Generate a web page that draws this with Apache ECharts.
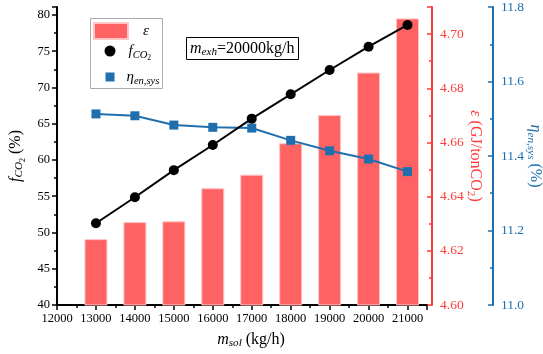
<!DOCTYPE html>
<html><head><meta charset="utf-8">
<script src="https://cdn.jsdelivr.net/npm/echarts@6/dist/echarts.min.js"></script>
<style>html,body{margin:0;padding:0;background:#fff}#c{width:543px;height:354px}</style>
</head><body><div id="c"></div>
<script>
const msol = [13000, 14000, 15000, 16000, 17000, 18000, 19000, 20000, 21000];
const eps = [4.6243, 4.6306, 4.6309, 4.6431, 4.6481, 4.6597, 4.6701, 4.6858, 4.7058];
const fco2 = [51.27, 54.86, 58.6, 62.07, 65.7, 69.06, 72.41, 75.63, 78.62];
const eta = [11.513, 11.508, 11.483, 11.477, 11.475, 11.442, 11.414, 11.392, 11.358];
const annotation = '{i|m}{s|exh}{n|=20000kg/h}';

const F = 'Liberation Serif';
const RED = '#ff3b3b', BAR = '#ff6262', BLUE = '#1f6fae';
const zip = (a, b) => a.map((v, i) => [v, b[i]]);
const rich = (size, color) => ({
  i: {fontFamily: F, fontStyle: 'italic', fontSize: size, color},
  n: {fontFamily: F, fontSize: size, color},
  s: {fontFamily: F, fontStyle: 'italic', fontSize: size * 0.7, color, padding: [size * 0.5, 0, 0, 0]},
  u: {fontFamily: F, fontSize: size * 0.7, color, padding: [size * 0.5, 0, 0, 0]},
  ss: {fontFamily: F, fontSize: size * 0.5, color, padding: [size * 0.9, 0, 0, 0]}
});
const legendNames = {eps: '{i|ε}', fco2: '{i|f}{s|CO}{ss|2}', eta: '{i|η}{s|en,sys}'};
const legendBase = (name, icon, opts, pad) => Object.assign({
  data: [{name, icon}], orient: 'vertical', selectedMode: false, padding: 0,
  formatter: n => '{g|}' + legendNames[n],
  textStyle: {fontFamily: F, fontSize: 15, color: '#000',
    rich: Object.assign(rich(15, '#000'), {g: {width: pad, fontSize: 15}})}
}, opts);
const lab = (size, color, fmt, extra) => Object.assign({
  fontFamily: F, fontSize: size, color, margin: 7,
  formatter: v => '{t|' + fmt(v) + '}',
  rich: {t: {fontFamily: F, fontSize: size, color}}
}, extra);

const chart = echarts.init(document.getElementById('c'), null, {renderer: 'canvas'});
chart.setOption({
  animation: false,
  textStyle: {fontFamily: F},
  grid: {left: 57, right: 116, top: 7, bottom: 49, containLabel: false, outerBoundsMode: 'none'},
  title: {
    text: annotation, left: 186, top: 36, padding: [3, 4, 2, 4],
    borderColor: '#000', borderWidth: 1,
    textStyle: {fontFamily: F, fontSize: 16, fontWeight: 'normal', color: '#000', rich: rich(16, '#000')}
  },
  graphic: [{type: 'rect', shape: {x: 90.5, y: 18.5, width: 72, height: 70}, style: {fill: 'none', stroke: '#aaa', lineWidth: 1}, z: 1}],
  legend: [
    legendBase('eps', 'rect', {left: 93, top: 22, itemWidth: 34, itemHeight: 16}, 10),
    legendBase('fco2', 'circle', {left: 104.5, top: 43.5, itemWidth: 11, itemHeight: 11}, 8),
    legendBase('eta', 'rect', {left: 105.5, top: 69.5, itemWidth: 9, itemHeight: 9}, 7)
  ],
  xAxis: {
    type: 'value', min: 12000, max: 21500, interval: 1000,
    name: '{i|m}{s|sol}{n| (kg/h)}', nameLocation: 'middle', nameGap: 25,
    nameTextStyle: {fontFamily: F, fontSize: 16, color: '#000', padding: [0, 0, 0, 18], rich: rich(16, '#000')},
    axisLine: {lineStyle: {color: '#000', width: 2}},
    axisTick: {length: 5, lineStyle: {width: 1.5}},
    minorTick: {show: true, splitNumber: 2, length: 3, lineStyle: {color: '#000', width: 1.5}},
    splitLine: {show: false},
    axisLabel: lab(12.5, '#000', v => String(v), {showMaxLabel: false})
  },
  yAxis: [
    {
      type: 'value', min: 40, max: 81.1, interval: 5, position: 'left',
      name: '{i|f}{s|CO}{ss|2}{n| (%)}', nameLocation: 'middle', nameGap: 30,
      nameTextStyle: {fontFamily: F, fontSize: 16, color: '#000', rich: rich(16, '#000')},
      axisLine: {show: true, lineStyle: {color: '#000', width: 2}},
      axisTick: {show: true, length: 5, lineStyle: {width: 1.5}},
      minorTick: {show: true, splitNumber: 2, length: 3, lineStyle: {color: '#000', width: 1.5}},
      splitLine: {show: false},
      axisLabel: lab(12.5, '#000', v => String(v), {showMaxLabel: false})
    },
    {
      type: 'value', min: 4.60, max: 4.71, interval: 0.02, position: 'right', offset: 5,
      name: '{i|ε}{n| (GJ/tonCO}{u|2}{n|)}', nameLocation: 'middle', nameGap: 43, nameRotate: -90,
      nameMoveOverlap: false,
      nameTextStyle: {fontFamily: F, fontSize: 16, color: RED, verticalAlign: 'middle', rich: rich(16, RED)},
      axisLine: {show: true, lineStyle: {color: RED, width: 2}},
      axisTick: {show: true, inside: true, length: 5, lineStyle: {width: 1.5}},
      minorTick: {show: true, splitNumber: 2, length: 3, lineStyle: {color: RED, width: 1.5}},
      splitLine: {show: false},
      axisLabel: lab(13.5, RED, v => v.toFixed(2), {margin: 8, showMaxLabel: false})
    },
    {
      type: 'value', min: 11.0, max: 11.8, interval: 0.2, position: 'right', offset: 66,
      name: '{i|η}{s|en,sys}{n| (%)}', nameLocation: 'middle', nameGap: 42, nameRotate: -90,
      nameMoveOverlap: false,
      nameTextStyle: {fontFamily: F, fontSize: 16, color: BLUE, verticalAlign: 'middle', rich: rich(16, BLUE)},
      axisLine: {show: true, lineStyle: {color: BLUE, width: 2}},
      axisTick: {show: true, inside: true, length: 5, lineStyle: {width: 1.5}},
      minorTick: {show: true, splitNumber: 2, length: 3, lineStyle: {color: BLUE, width: 1.5}},
      splitLine: {show: false},
      axisLabel: lab(13.5, BLUE, v => v.toFixed(1), {margin: 8})
    }
  ],
  series: [
    {
      name: 'eps', type: 'bar', yAxisIndex: 1, data: zip(msol, eps), barWidth: 23,
      itemStyle: {color: BAR, borderColor: '#ffc4c4', borderWidth: 1, borderRadius: 0}, z: 2
    },
    {
      name: 'fco2', type: 'line', yAxisIndex: 0, data: zip(msol, fco2),
      symbol: 'circle', symbolSize: 10, lineStyle: {color: '#000', width: 2},
      itemStyle: {color: '#000'}, z: 4
    },
    {
      name: 'eta', type: 'line', yAxisIndex: 2, data: zip(msol, eta),
      symbol: 'rect', symbolSize: 9, lineStyle: {color: BLUE, width: 2},
      itemStyle: {color: BLUE}, z: 3
    }
  ]
});
</script></body></html>
